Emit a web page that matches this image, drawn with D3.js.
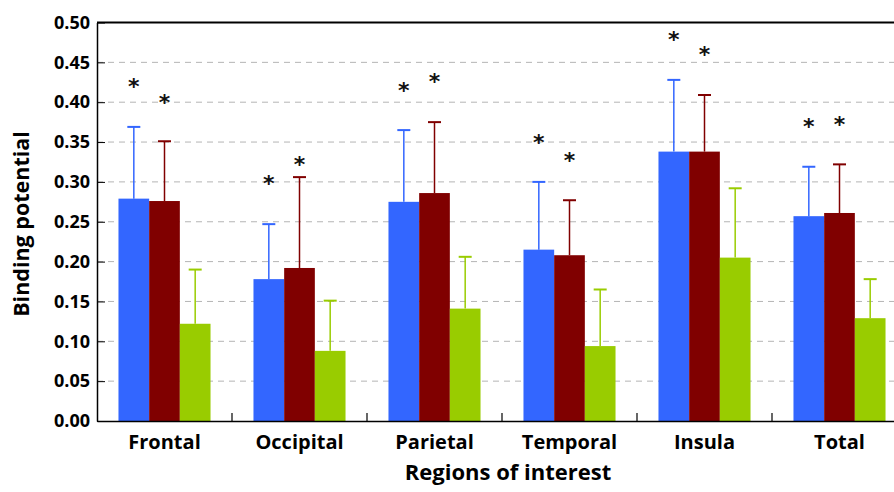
<!DOCTYPE html>
<html><head><meta charset="utf-8">
<script src="https://cdn.jsdelivr.net/npm/d3@7"></script>
<style>body{margin:0;background:#fff}svg{display:block}text{font-family:"Open Sans",Lato,sans-serif;font-weight:bold}</style>
</head><body><svg id="c" width="894" height="492"></svg>
<script>
const categories = ["Frontal","Occipital","Parietal","Temporal","Insula","Total"];
const seriesNames = ["Group A","Group B","Group C"];
const colors = ["#3366FF","#800000","#99CC00"];
const meanA = [0.279,0.178,0.275,0.215,0.338,0.257];
const meanB = [0.276,0.192,0.286,0.208,0.338,0.261];
const meanC = [0.122,0.088,0.141,0.094,0.205,0.129];
const upperA = [0.369,0.247,0.365,0.300,0.428,0.319];
const upperB = [0.351,0.306,0.375,0.277,0.409,0.322];
const upperC = [0.190,0.151,0.206,0.165,0.292,0.178];
const starA = [0.422,0.300,0.417,0.351,0.481,0.371];
const starB = [0.402,0.324,0.428,0.329,0.462,0.374];
const yTicks = [0,0.05,0.10,0.15,0.20,0.25,0.30,0.35,0.40,0.45,0.50];

const means=[meanA,meanB,meanC], uppers=[upperA,upperB,upperC], stars=[starA,starB];
const svg=d3.select("#c");
const L=97, R=907, T=22.5, B=421;
const x=d3.scaleBand().domain(categories).range([L,R]).paddingInner(0).paddingOuter(0);
const xs=d3.scaleBand().domain(d3.range(3)).range([0,x.bandwidth()]).paddingInner(0).paddingOuter(0.7);
const y=d3.scaleLinear().domain([0,0.5]).range([B,T]);

// grid
svg.append("g").selectAll("line").data(yTicks.slice(1,-1)).join("line")
 .attr("x1",L).attr("x2",R).attr("y1",d=>y(d)).attr("y2",d=>y(d))
 .attr("stroke","#b4b4b4").attr("stroke-width",1).attr("stroke-dasharray","6,5");

// bars
const g=svg.append("g");
categories.forEach((c,i)=>{
  means.forEach((m,s)=>{
    const bx=x(c)+xs(s), bw=xs.bandwidth(), cx=bx+bw/2;
    g.append("line").attr("x1",cx).attr("x2",cx).attr("y1",y(m[i])).attr("y2",y(uppers[s][i]))
      .attr("stroke",colors[s]).attr("stroke-width",1.5);
    g.append("line").attr("x1",cx-6.5).attr("x2",cx+6.5).attr("y1",y(uppers[s][i])).attr("y2",y(uppers[s][i]))
      .attr("stroke",colors[s]).attr("stroke-width",2);
    g.append("rect").attr("x",bx).attr("width",bw).attr("y",y(m[i])).attr("height",y(0)-y(m[i]))
      .attr("fill",colors[s]);
  });
  stars.forEach((st,s)=>{
    const cx=x(c)+xs(s)+xs.bandwidth()/2;
    g.append("text").attr("x",cx).attr("y",y(st[i])+9).attr("text-anchor","middle")
      .attr("font-size",22).attr("fill","#111").style("font-family","DejaVu Sans").text("*");
  });
});

// axes
const yAxis=d3.axisLeft(y).tickValues(yTicks).tickFormat(d3.format(".2f")).tickSizeInner(-8).tickSizeOuter(0).tickPadding(7);
const ya=svg.append("g").attr("transform",`translate(${L},0)`).call(yAxis);
ya.select(".domain").attr("stroke","#000").attr("stroke-width",1.5);
ya.selectAll("text").attr("font-size",18).attr("fill","#000").style("font-family","Open Sans").style("font-weight","bold");
ya.selectAll(".tick line").attr("stroke","#000");

const xAxis=d3.axisBottom(x).tickSize(0).tickPadding(14);
const xa=svg.append("g").attr("transform",`translate(0,${B})`).call(xAxis);
xa.select(".domain").attr("stroke","#000").attr("stroke-width",1.5);
xa.selectAll("text").attr("font-size",20).attr("fill","#000").attr("dy","0.71em").style("font-family","Open Sans").style("font-weight","bold");
// group separators
svg.append("g").selectAll("line").data(categories.slice(1)).join("line")
 .attr("x1",d=>x(d)).attr("x2",d=>x(d)).attr("y1",B).attr("y2",B-8).attr("stroke","#000").attr("stroke-width",1.2);
// top border
svg.append("line").attr("x1",L).attr("x2",R).attr("y1",T).attr("y2",T).attr("stroke","#000").attr("stroke-width",2);

svg.append("text").attr("x",508).attr("y",480).attr("text-anchor","middle").attr("font-size",22).text("Regions of interest");
svg.append("text").attr("transform","translate(29,224) rotate(-90)").attr("text-anchor","middle").attr("font-size",21.5).text("Binding potential");
</script></body></html>
